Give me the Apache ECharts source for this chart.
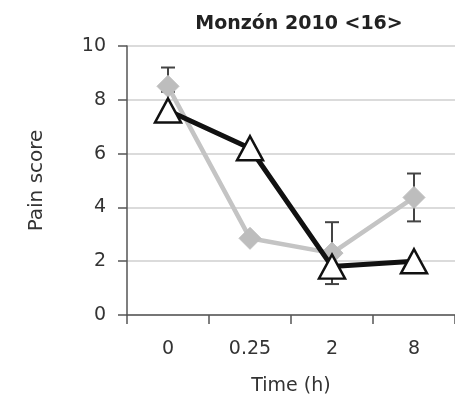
<!DOCTYPE html>
<html><head><meta charset="utf-8">
<script src="https://cdn.jsdelivr.net/npm/echarts@6/dist/echarts.min.js"></script>
<style>html,body{margin:0;padding:0;background:#fff}#c{width:455px;height:401px}</style>
</head><body><div id="c"></div>
<script>
var categories = ['0', '0.25', '2', '8'];
var blackValues = [7.6, 6.2, 1.8, 2.0];
var greyValues = [8.5, 2.85, 2.3, 4.37];
var greyErrLow = [8.3, 2.85, 1.15, 3.48];
var greyErrHigh = [9.2, 2.85, 3.45, 5.26];
var yTicks = [0, 2, 4, 6, 8, 10];

var errData = categories.map(function (c, i) { return [i, greyErrLow[i], greyErrHigh[i]]; });
var font = '"DejaVu Sans", "Liberation Sans", Arial, sans-serif';
var chart = echarts.init(document.getElementById('c'));
chart.setOption({
  animation: false,
  title: { text: 'Monzón 2010 <16>', left: 294, top: 10, textAlign: 'center',
    textStyle: { fontFamily: font, fontSize: 19, fontWeight: 'bold', color: '#222' } },
  grid: { left: 127, top: 46, bottom: 85, right: -4 },
  xAxis: {
    type: 'category', data: categories, boundaryGap: true,
    name: 'Time (h)', nameLocation: 'middle', nameGap: 62,
    nameTextStyle: { fontFamily: font, fontSize: 19, color: '#333' },
    axisLine: { lineStyle: { color: '#555', width: 1.5 } },
    axisTick: { show: true, length: 9, alignWithLabel: false, lineStyle: { color: '#555', width: 1.5 } },
    axisLabel: { fontFamily: font, fontSize: 19, color: '#333', margin: 25 }
  },
  yAxis: {
    type: 'value', min: 0, max: 10, interval: 2,
    name: 'Pain score', nameLocation: 'middle', nameGap: 80, nameRotate: 90,
    nameTextStyle: { fontFamily: font, fontSize: 20, color: '#333' },
    axisLine: { show: true, lineStyle: { color: '#555', width: 1.5 } },
    axisTick: { show: true, length: 9, lineStyle: { color: '#555', width: 1.5 } },
    axisLabel: { fontFamily: font, fontSize: 19, color: '#333', margin: 21,
      formatter: function (v) { return yTicks.indexOf(v) >= 0 ? String(v) : ''; } },
    splitLine: { show: true, lineStyle: { color: '#cfcfcf', width: 1.5 } }
  },
  series: [
    {
      type: 'custom', z: 1, data: errData,
      renderItem: function (params, api) {
        var x = api.value(0);
        var lo = api.coord([x, api.value(1)]);
        var hi = api.coord([x, api.value(2)]);
        var w = 7;
        var st = { stroke: '#444', lineWidth: 2 };
        return { type: 'group', children: [
          { type: 'line', shape: { x1: lo[0], y1: lo[1], x2: hi[0], y2: hi[1] }, style: st },
          { type: 'line', shape: { x1: hi[0] - w, y1: hi[1], x2: hi[0] + w, y2: hi[1] }, style: st },
          { type: 'line', shape: { x1: lo[0] - w, y1: lo[1], x2: lo[0] + w, y2: lo[1] }, style: st }
        ] };
      }
    },
    {
      type: 'line', z: 2, data: greyValues, symbol: 'diamond', symbolSize: 22,
      lineStyle: { color: '#c4c4c4', width: 4.5 },
      itemStyle: { color: '#bdbdbd', borderColor: '#bdbdbd' }
    },
    {
      type: 'line', z: 3, data: blackValues, symbol: 'triangle', symbolSize: [26, 24],
      lineStyle: { color: '#111', width: 5 },
      itemStyle: { color: '#fff', borderColor: '#111', borderWidth: 2.5 }
    }
  ]
});
</script></body></html>
